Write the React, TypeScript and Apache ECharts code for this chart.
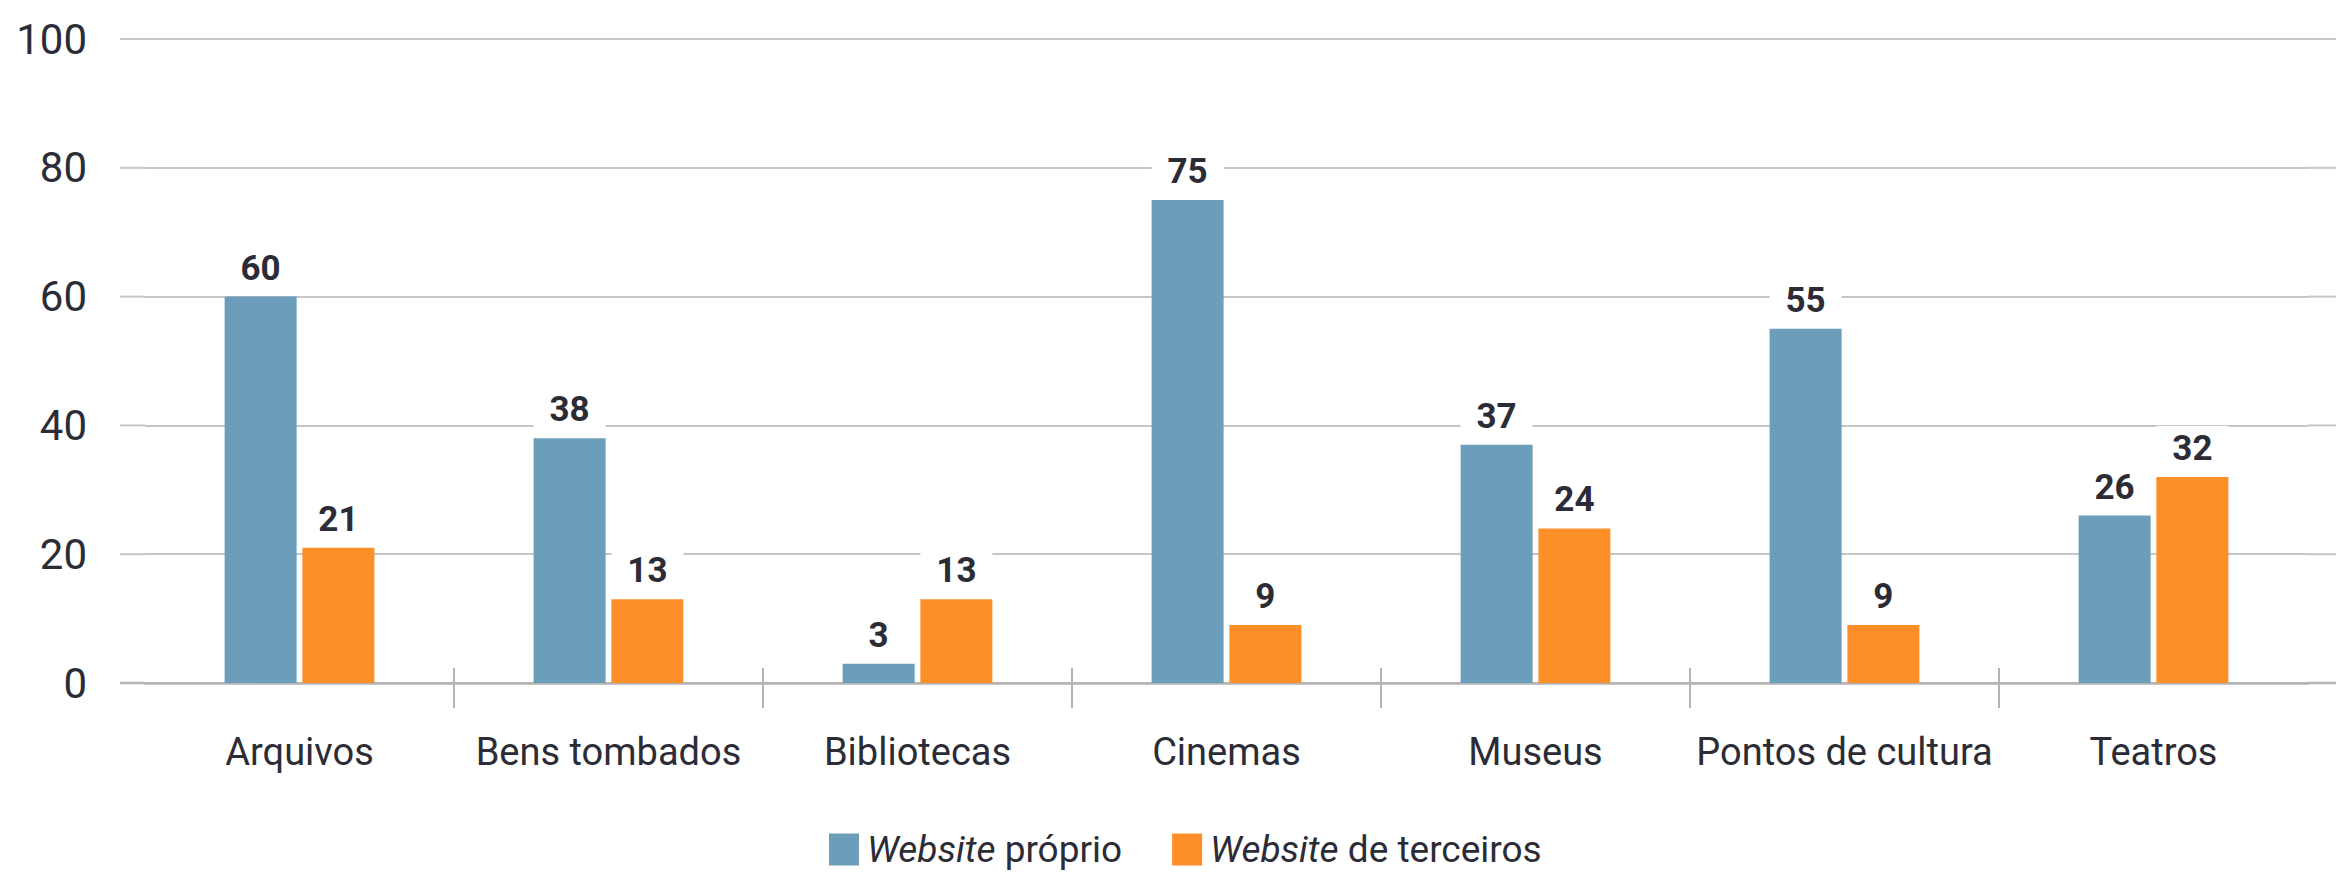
import React, { useEffect, useRef } from "react";
import * as echarts from "echarts";

const categories = ["Arquivos", "Bens tombados", "Bibliotecas", "Cinemas", "Museus", "Pontos de cultura", "Teatros"];
const seriesNames = ["Website próprio", "Website de terceiros"];
const proprio = [60, 38, 3, 75, 37, 55, 26];
const terceiros = [21, 13, 13, 9, 24, 9, 32];
const yTicks = [0, 20, 40, 60, 80, 100];

const W = 2336;
const H = 876;
const FONT = "Roboto, 'Liberation Sans', sans-serif";
const TEXT = "#2c2c36";
const BLUE = "#6c9dbb";
const ORANGE = "#fd8f28";
const GRID = "#c6c6c6";
const AXIS = "#b3b3b3";

export default function App() {
  const ref = useRef<HTMLDivElement>(null);
  useEffect(() => {
    const chart = echarts.init(ref.current!, null, { renderer: "svg", width: W, height: H });
    const gridLeft = 145;
    const gridRight = 28;
    const barLabel = {
      show: true,
      position: "top",
      distance: 6,
      fontFamily: FONT,
      fontWeight: "bold",
      fontSize: 35,
      color: TEXT,
      backgroundColor: "#ffffff",
      width: 72,
      align: "center",
      padding: [5, 0, 5, 0],
    };
    chart.setOption({
      animation: false,
      backgroundColor: "#ffffff",
      grid: { left: gridLeft, right: gridRight, top: 39, bottom: 193, containLabel: false },
      legend: {
        left: 824,
        top: 826,
        itemWidth: 30,
        itemHeight: 32,
        itemGap: 50,
        icon: "rect",
        textStyle: {
          fontFamily: FONT,
          fontSize: 37,
          color: TEXT,
          padding: [0, 0, 0, 3],
          rich: { i: { fontStyle: "italic", fontFamily: FONT, fontSize: 37, color: TEXT } },
        },
        formatter: (n: string) => n.replace("Website", "{i|Website}"),
        data: seriesNames,
      },
      xAxis: {
        type: "category",
        data: categories,
        axisLine: { lineStyle: { color: AXIS, width: 2.5 } },
        axisTick: { show: false },
        axisLabel: { fontFamily: FONT, fontSize: 38, color: TEXT, margin: 50, interval: 0 },
      },
      yAxis: {
        type: "value",
        min: 0,
        max: 100,
        interval: 20,
        axisLine: { show: false },
        axisTick: { show: false },
        axisLabel: { fontFamily: FONT, fontSize: 42, color: TEXT, margin: 58, padding: [0, 0, 10, 0] },
        splitLine: { lineStyle: { color: GRID, width: 2 } },
      },
      series: [
        {
          name: seriesNames[0],
          type: "bar",
          data: proprio,
          barWidth: 72,
          barGap: "8%",
          itemStyle: { color: BLUE },
          label: barLabel,
        },
        {
          name: seriesNames[1],
          type: "bar",
          data: terceiros,
          barWidth: 72,
          barGap: "8%",
          itemStyle: { color: ORANGE },
          label: barLabel,
        },
      ],
    });

    const g: any[] = [];
    yTicks.forEach((v) => {
      const y = chart.convertToPixel({ yAxisIndex: 0 }, v) as number;
      const st = v === 0 ? { stroke: AXIS, lineWidth: 2.5 } : { stroke: GRID, lineWidth: 2 };
      g.push({ type: "line", silent: true, shape: { x1: 120, y1: y, x2: gridLeft, y2: y }, style: st });
      g.push({ type: "line", silent: true, shape: { x1: W - gridRight, y1: y, x2: W, y2: y }, style: st });
    });
    const y0 = chart.convertToPixel({ yAxisIndex: 0 }, 0) as number;
    for (let i = 0; i < categories.length - 1; i++) {
      const a = chart.convertToPixel({ xAxisIndex: 0 }, categories[i]) as number;
      const b = chart.convertToPixel({ xAxisIndex: 0 }, categories[i + 1]) as number;
      const x = (a + b) / 2;
      g.push({
        type: "line",
        silent: true,
        shape: { x1: x, y1: y0 - 15, x2: x, y2: y0 + 25 },
        style: { stroke: AXIS, lineWidth: 2 },
      });
    }
    chart.setOption({ graphic: g });

    return () => chart.dispose();
  }, []);
  return <div ref={ref} style={{ position: "absolute", left: 0, top: 0, width: W, height: H }} />;
}
